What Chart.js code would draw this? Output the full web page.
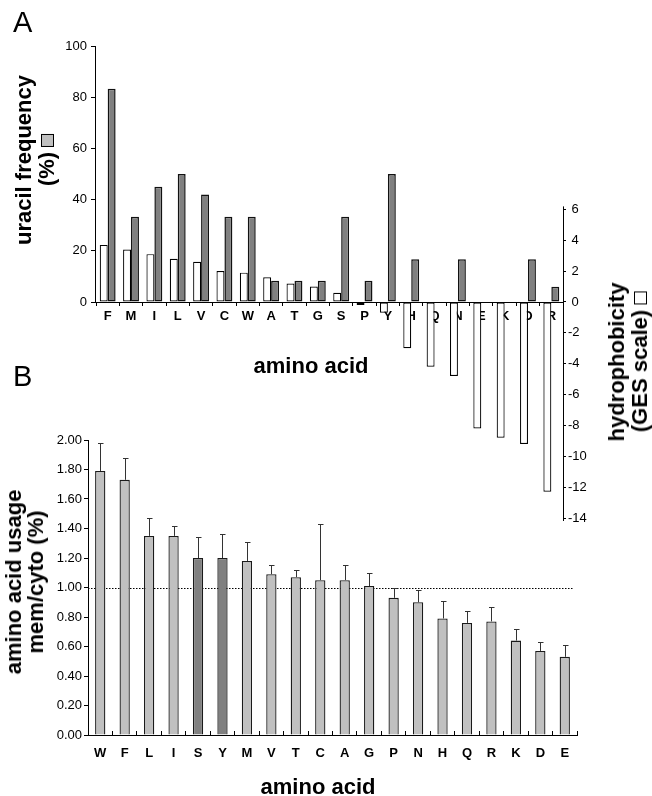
<!DOCTYPE html>
<html>
<head>
<meta charset="utf-8">
<script src="https://cdn.jsdelivr.net/npm/chart.js@4.4.1/dist/chart.umd.min.js"></script>
<style>
html,body{margin:0;padding:0;background:#fff;}
body{width:652px;height:796px;position:relative;overflow:hidden;font-family:"Liberation Sans",Arial,Helvetica,sans-serif;color:#000;}
canvas{position:absolute;left:0;pointer-events:none;}
#cA{top:0;}
#cB{top:380px;}
.panel{position:absolute;font-size:29px;line-height:29px;font-weight:normal;}
.ttl{position:absolute;font-weight:bold;font-size:22px;line-height:23px;text-align:center;white-space:nowrap;}
.rot{transform:translate(-50%,-50%) rotate(-90deg);}
.sq{display:inline-block;width:11px;height:11px;border:1.5px solid #000;vertical-align:0px;margin-left:5px;}
</style>
</head>
<body>
<canvas id="cA" width="652" height="540"></canvas>
<canvas id="cB" width="652" height="416"></canvas>

<div class="panel" style="left:13px;top:8px;">A</div>
<div class="panel" style="left:13px;top:362px;">B</div>

<div class="ttl rot" style="left:35px;top:160px;">uracil frequency<br>(%)<span class="sq" style="background:#c0c0c0;"></span></div>
<div class="ttl rot" style="left:628px;top:362px;">hydrophobicity<br>(GES scale)<span class="sq" style="background:#fff;"></span></div>
<div class="ttl" style="left:311px;top:354px;transform:translateX(-50%);">amino acid</div>

<div class="ttl rot" style="left:25px;top:582px;line-height:22px;">amino acid usage<br>mem/cyto (%)</div>
<div class="ttl" style="left:318px;top:775px;transform:translateX(-50%);">amino acid</div>

<script>
// ---------- Panel A data ----------
const aminoA = ['F','M','I','L','V','C','W','A','T','G','S','P','Y','H','Q','N','E','K','D','R'];
const uracilFreq = [83.3,33.3,45,50,42,33.3,33.3,8.3,8.3,8.3,33.3,8.3,50,16.7,0,16.7,0,0,16.7,6];
const hydroGES = [3.7,3.4,3.1,2.8,2.6,2.0,1.9,1.6,1.2,1.0,0.6,-0.2,-0.7,-3.0,-4.2,-4.8,-8.2,-8.8,-9.2,-12.3];
const ticksUracil = [0,20,40,60,80,100];
const ticksGES = [6,4,2,0,-2,-4,-6,-8,-10,-12,-14];

// ---------- Panel B data ----------
const aminoB = ['W','F','L','I','S','Y','M','V','T','C','A','G','P','N','H','Q','R','K','D','E'];
const usageRatio = [1.79,1.73,1.35,1.35,1.20,1.20,1.18,1.09,1.07,1.05,1.05,1.01,0.93,0.90,0.79,0.76,0.77,0.64,0.57,0.53];
const usageErr = [0.19,0.15,0.12,0.07,0.14,0.16,0.13,0.06,0.05,0.38,0.10,0.09,0.07,0.08,0.12,0.08,0.10,0.08,0.06,0.08];
const highlightB = ['S','Y'];
const ticksUsage = [0,0.2,0.4,0.6,0.8,1.0,1.2,1.4,1.6,1.8,2.0];
const refLevel = 1.0;

Chart.defaults.font.family = '"Liberation Sans", Arial, Helvetica, sans-serif';
Chart.defaults.color = '#000';

// partial axis lines (only over the tick range)
const axisLinesA = {
  id: 'axisLinesA',
  afterDatasetsDraw(chart) {
    const {ctx, scales: {y, y2}, chartArea} = chart;
    ctx.save();
    ctx.strokeStyle = '#000';
    ctx.lineWidth = 1;
    const xl = Math.round(chartArea.left) - 0.5;
    ctx.beginPath();
    ctx.moveTo(xl, y.getPixelForValue(Math.max(...ticksUracil)));
    ctx.lineTo(xl, y.getPixelForValue(Math.min(...ticksUracil)));
    ctx.stroke();
    const xr = Math.round(chartArea.right) + 0.5;
    ctx.beginPath();
    ctx.moveTo(xr, y2.getPixelForValue(Math.max(...ticksGES)) - 3);
    ctx.lineTo(xr, y2.getPixelForValue(Math.min(...ticksGES)) + 3);
    ctx.stroke();
    ctx.restore();
  }
};

new Chart(document.getElementById('cA'), {
  type: 'bar',
  data: {
    labels: aminoA,
    datasets: [
      {label: 'hydrophobicity (GES scale)', data: hydroGES, yAxisID: 'y2',
       backgroundColor: '#ffffff', borderColor: '#000000', borderWidth: 1.2, borderSkipped: false},
      {label: 'uracil frequency (%)', data: uracilFreq, yAxisID: 'y',
       backgroundColor: '#808080', borderColor: '#111111', borderWidth: 1.5, borderSkipped: false}
    ]
  },
  options: {
    responsive: false, animation: false, events: [],
    layout: {padding: {top: 46, bottom: 22, left: 0, right: 0}},
    plugins: {legend: {display: false}, tooltip: {enabled: false}},
    datasets: {bar: {categoryPercentage: 0.68, barPercentage: 1}},
    scales: {
      x: {
        position: {y: 0}, z: 1, offset: true,
        grid: {offset: true, drawOnChartArea: false, drawTicks: true, tickLength: 3, color: '#000'},
        border: {display: true, color: '#000', width: 1},
        ticks: {font: {size: 13, weight: 'bold'}, color: '#000', padding: 4, maxRotation: 0, autoSkip: false}
      },
      y: {
        position: 'left', min: -84.375, max: 100,
        afterFit(s) { s.width = 96; },
        afterBuildTicks(s) { s.ticks = ticksUracil.map(v => ({value: v})); },
        grid: {drawOnChartArea: false, drawTicks: true, tickLength: 5, color: '#000'},
        border: {display: false},
        ticks: {font: {size: 13}, color: '#000', padding: 4, callback: v => String(v)}
      },
      y2: {
        position: 'right', min: -14, max: 16.59,
        afterFit(s) { s.width = 89; },
        afterBuildTicks(s) { s.ticks = ticksGES.map(v => ({value: v})); },
        grid: {drawOnChartArea: false, drawTicks: true, tickLength: 3, color: '#000'},
        border: {display: false},
        ticks: {font: {size: 13}, color: '#000', padding: 2, callback: v => (v >= 0 ? ' ' : '') + v}
      }
    }
  },
  plugins: [axisLinesA]
});

// ---------- Panel B ----------
const refLinePlugin = {
  id: 'refLine',
  beforeDatasetsDraw(chart) {
    const {ctx, scales: {y}, chartArea} = chart;
    const py = Math.round(y.getPixelForValue(refLevel)) + 0.5;
    ctx.save();
    ctx.strokeStyle = '#000';
    ctx.lineWidth = 1;
    ctx.setLineDash([1.5, 1.5]);
    ctx.beginPath();
    ctx.moveTo(chartArea.left, py);
    ctx.lineTo(chartArea.right - 4, py);
    ctx.stroke();
    ctx.restore();
  }
};
const errorBarPlugin = {
  id: 'errBars',
  afterDatasetsDraw(chart) {
    const {ctx, scales: {y}} = chart;
    const meta = chart.getDatasetMeta(0);
    ctx.save();
    ctx.strokeStyle = '#333';
    ctx.lineWidth = 1;
    meta.data.forEach((bar, i) => {
      const x = Math.round(bar.x) + 0.5;
      const yb = y.getPixelForValue(usageRatio[i]);
      const yt = Math.round(y.getPixelForValue(usageRatio[i] + usageErr[i])) + 0.5;
      ctx.beginPath();
      ctx.moveTo(x, yb);
      ctx.lineTo(x, yt);
      ctx.moveTo(x - 2.5, yt);
      ctx.lineTo(x + 3, yt);
      ctx.stroke();
    });
    ctx.restore();
  }
};

new Chart(document.getElementById('cB'), {
  type: 'bar',
  data: {
    labels: aminoB,
    datasets: [{
      label: 'amino acid usage mem/cyto (%)',
      data: usageRatio,
      backgroundColor: aminoB.map(a => highlightB.includes(a) ? '#808080' : '#c0c0c0'),
      borderColor: '#1a1a1a', borderWidth: 1.3, borderSkipped: 'start',
      categoryPercentage: 1, barPercentage: 0.42
    }]
  },
  options: {
    responsive: false, animation: false, events: [],
    layout: {padding: {top: 60, bottom: 0, left: 0, right: 75}},
    plugins: {legend: {display: false}, tooltip: {enabled: false}},
    scales: {
      x: {
        position: 'bottom', offset: true,
        afterFit(s) { s.height = 61; },
        grid: {offset: true, drawOnChartArea: false, drawTicks: true, tickLength: -4, color: '#000'},
        border: {display: true, color: '#000', width: 1},
        ticks: {font: {size: 13, weight: 'bold'}, color: '#000', padding: 15, maxRotation: 0, autoSkip: false}
      },
      y: {
        position: 'left', min: 0, max: 2,
        afterFit(s) { s.width = 88; },
        afterBuildTicks(s) { s.ticks = ticksUsage.map(v => ({value: v})); },
        grid: {drawOnChartArea: false, drawTicks: true, tickLength: 4, color: '#000'},
        border: {display: true, color: '#000', width: 1},
        ticks: {font: {size: 13}, color: '#000', padding: 2, callback: v => Number(v).toFixed(2)}
      }
    }
  },
  plugins: [refLinePlugin, errorBarPlugin]
});
</script>
</body>
</html>
